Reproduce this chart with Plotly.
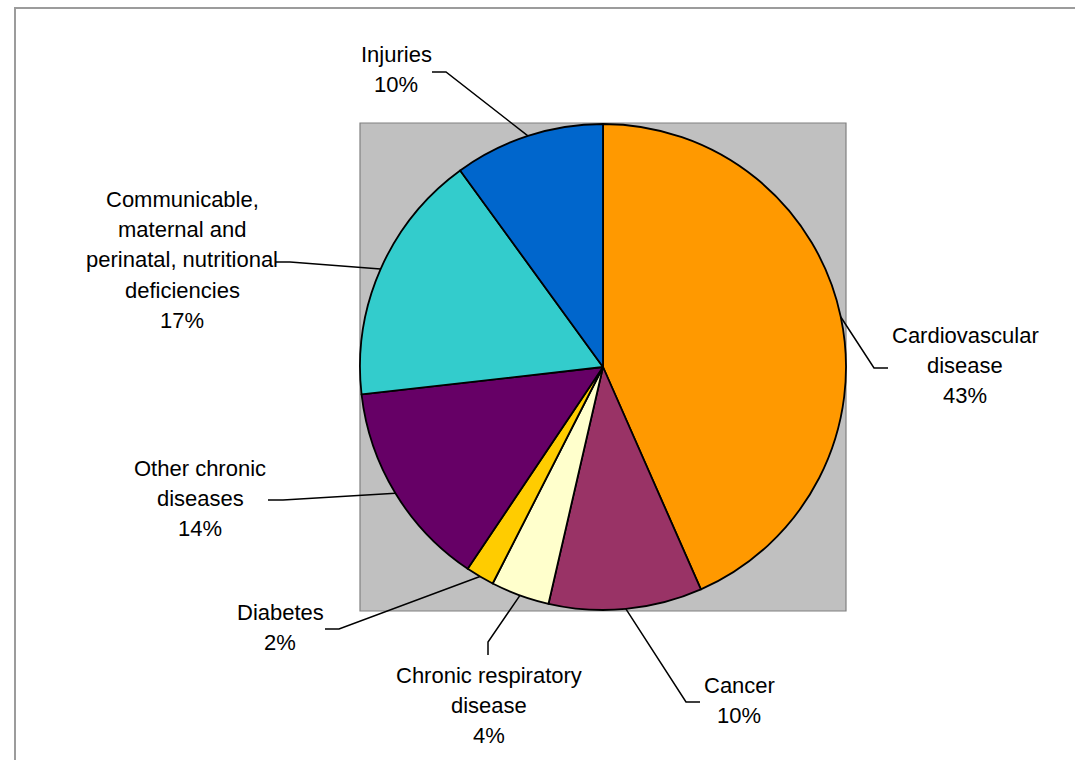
import math
import plotly.graph_objects as go

# ---- data ----
CATEGORIES = [
    "Cardiovascular\ndisease",
    "Cancer",
    "Chronic respiratory\ndisease",
    "Diabetes",
    "Other chronic\ndiseases",
    "Communicable,\nmaternal and\nperinatal, nutritional\ndeficiencies",
    "Injuries",
]
VALUES = [43.4, 10.2, 3.9, 1.9, 13.8, 16.8, 10.0]
COLORS = ["#FF9900", "#993366", "#FFFFCC", "#FFCC00", "#660066", "#33CCCC", "#0066CC"]

# ---- layout (pixel positions) ----
W, H = 1075, 760
PLOT_BOX = (360, 123, 846, 611)  # gray plot area: x0, y0, x1, y1
LABEL_POS = [(965, 335), (739, 685), (489, 675), (280, 612), (200, 468), (182, 200), (396, 54)]
LEADER_ELBOW = [(874, 368), (686, 702), (488, 642), (339, 629), (283, 500), (290, 262), (446, 72)]
LEADER_END = [(888, 368), (700, 702), (488, 655), (325, 629), (268, 500), (275, 262), (432, 72)]
LINE_STEP = 30
FONT = dict(family="Liberation Sans, Arial, sans-serif", size=22, color="black")


def px(x):
    return x / W


def py(y):
    return 1 - y / H


x0, y0, x1, y1 = PLOT_BOX
fig = go.Figure(
    go.Pie(
        values=VALUES,
        labels=[c.replace("\n", " ") for c in CATEGORIES],
        marker=dict(colors=COLORS, line=dict(color="black", width=1.8)),
        sort=False,
        direction="clockwise",
        rotation=0,
        textinfo="none",
        hoverinfo="label+percent",
        showlegend=False,
        domain=dict(x=[px(x0), px(x1)], y=[py(y1), py(y0)]),
    )
)

shapes = [
    dict(type="rect", xref="paper", yref="paper", x0=px(x0), x1=px(x1), y0=py(y1), y1=py(y0),
         fillcolor="#C0C0C0", line=dict(color="#808080", width=1.2), layer="below"),
    dict(type="rect", xref="paper", yref="paper", x0=px(15), x1=px(W + 20), y0=py(H + 20), y1=py(8),
         fillcolor="rgba(0,0,0,0)", line=dict(color="#9C9C9C", width=2), layer="below"),
]

cx, cy = (x0 + x1) / 2, (y0 + y1) / 2
R = min(x1 - x0, y1 - y0) / 2
total = sum(VALUES)
annotations = []
cum = 0
for i, v in enumerate(VALUES):
    mid = (cum + v / 2) / total * 2 * math.pi
    cum += v
    ex = cx + R * math.sin(mid)
    ey = cy - R * math.cos(mid)
    (bx, by), (tx, ty) = LEADER_ELBOW[i], LEADER_END[i]
    shapes.append(dict(
        type="path", xref="paper", yref="paper",
        path=f"M {px(ex)},{py(ey)} L {px(bx)},{py(by)} L {px(tx)},{py(ty)}",
        line=dict(color="black", width=1.5),
    ))
    lines = CATEGORIES[i].split("\n") + [f"{round(v / total * 100)}%"]
    lx, ly = LABEL_POS[i]
    for j, t in enumerate(lines):
        annotations.append(dict(
            x=px(lx), y=py(ly + j * LINE_STEP), xref="paper", yref="paper",
            text=t, showarrow=False, xanchor="center", yanchor="middle", font=FONT,
        ))

fig.update_layout(
    width=W, height=H,
    margin=dict(l=0, r=0, t=0, b=0),
    paper_bgcolor="white",
    plot_bgcolor="white",
    shapes=shapes,
    annotations=annotations,
)

fig.write_html(
    "out.html",
    config={"displayModeBar": False},
    post_script="document.body.style.margin='0';document.body.style.overflow='hidden';",
)
